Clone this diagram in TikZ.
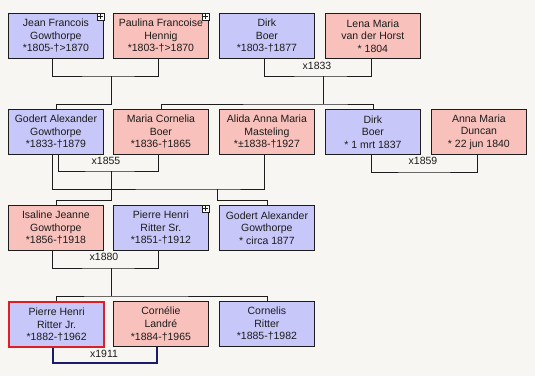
\documentclass[tikz,border=0pt]{standalone}
\usepackage{fontspec}
\setmainfont{Liberation Sans}
\definecolor{Canvas}{HTML}{F7F6F2}
\definecolor{Male}{HTML}{C8C7F9}
\definecolor{Female}{HTML}{F8C1BC}
\definecolor{Ink}{HTML}{1C1C1C}
\definecolor{Navy}{HTML}{1B1B6B}
\definecolor{Pick}{HTML}{DC1F26}

\begin{document}
\begin{tikzpicture}[x=1pt,y=-1pt,
  person/.style={draw=Ink, line width=0.8pt, minimum width=95pt, minimum height=45pt, inner sep=0pt, anchor=north west, align=center, text=Ink, font=\fontsize{10.5}{12.6}\selectfont},
  he/.style={person, fill=Male},
  she/.style={person, fill=Female},
  wed/.style={inner sep=0pt, text=Ink, font=\fontsize{10.5}{12}\selectfont},
  link/.style={Ink, line width=0.8pt},
  more/.style={draw=Ink, fill=white, line width=0.6pt, minimum size=7pt, inner sep=0pt, anchor=north east,
    path picture={\draw[Ink, line width=0.6pt] (path picture bounding box.center) +(-2.2pt,0) -- +(2.2pt,0) (path picture bounding box.center) +(0,-2.2pt) -- +(0,2.2pt);}}]
\fill[Canvas] (0,0) rectangle (535,376);
\node[he] (jean) at (8,13){Jean Francois\\Gowthorpe\\*1805-†>1870};
\node[she] (paulina) at (113,13){Paulina Francoise\\Hennig\\*1803-†>1870};
\node[he] (dirkS) at (219,13){Dirk\\Boer\\*1803-†1877};
\node[she] (lena) at (325,13){Lena Maria\\van der Horst\\* 1804};
\node[he] (godert) at (8,109){Godert Alexander\\Gowthorpe\\*1833-†1879};
\node[she] (maria) at (113,109){Maria Cornelia\\Boer\\*1836-†1865};
\node[she] (alida) at (219,109){Alida Anna Maria\\Masteling\\*±1838-†1927};
\node[he] (dirkJ) at (325,109){Dirk\\Boer\\* 1 mrt 1837};
\node[she] (anna) at (431,109){Anna Maria\\Duncan\\* 22 jun 1840};
\node[she] (isaline) at (8,205){Isaline Jeanne\\Gowthorpe\\*1856-†1918};
\node[he] (pierreS) at (113,205){Pierre Henri\\Ritter Sr.\\*1851-†1912};
\node[he] (godertJ) at (219,205){Godert Alexander\\Gowthorpe\\* circa 1877};
\node[he, draw=Pick, line width=2.2pt] (pierreJ) at (8,301){Pierre Henri\\Ritter Jr.\\*1882-†1962};
\node[she] (cornelie) at (113,301){Cornélie\\Landré\\*1884-†1965};
\node[he] (cornelis) at (219,301){Cornelis\\Ritter\\*1885-†1982};
\foreach \p in {jean,paulina,pierreS}{\node[more] (\p-more) at ([xshift=0.5pt,yshift=0.5pt]\p.north east){};}
\coordinate (mA) at (111,76);
\draw[link] ([xshift=-3.5pt]jean.south) |- (mA) -| ([xshift=-2.5pt]paulina.south);
\draw[link] (mA) -- ++(0,28) -| (godert.north);
\coordinate (mB) at (323,76);
\draw[link] ([xshift=-2.5pt]dirkS.south) |- (mB) -| ([xshift=-1.5pt]lena.south);
\draw[link] (mB) -- ++(0,28) coordinate (cB);
\draw[link] (maria.north) |- (cB) -| (dirkJ.north);
\node[wed] (wB) at (317,66){x1833};
\coordinate (mC) at (111,171);
\draw[link] ([xshift=2.5pt]godert.south) |- (mC) -| ([xshift=-2.5pt]maria.south);
\draw[link] (mC) -- ++(0,29) -| (isaline.north);
\node[wed] (wC) at (106,161){x1855};
\coordinate (mD) at (217,189);
\draw[link] ([xshift=-3.5pt]godert.south) |- (mD) -| ([xshift=-2.5pt]alida.south);
\draw[link] (mD) -- ++(0,11) -| (godertJ.north);
\coordinate (mE) at (424,172);
\draw[link] ([xshift=-1.5pt]dirkJ.south) |- (mE) -| ([xshift=-1.5pt]anna.south);
\node[wed] (wE) at (423,161){x1859};
\coordinate (mF) at (111,268);
\draw[link] ([xshift=-3.5pt]isaline.south) |- (mF) -| ([xshift=-2.5pt]pierreS.south);
\draw[link] (mF) -- ++(0,28) coordinate (cF);
\draw[link] (pierreJ.north) |- (cF) -| (cornelis.north);
\node[wed] (wF) at (104,257){x1880};
\coordinate (mG) at (105,363);
\draw[Navy, line width=2pt] ([xshift=-3.5pt]pierreJ.south) |- (mG) -| ([xshift=-3.5pt]cornelie.south);
\node[wed] (wG) at (104,354){x1911};
\end{tikzpicture}
\end{document}
